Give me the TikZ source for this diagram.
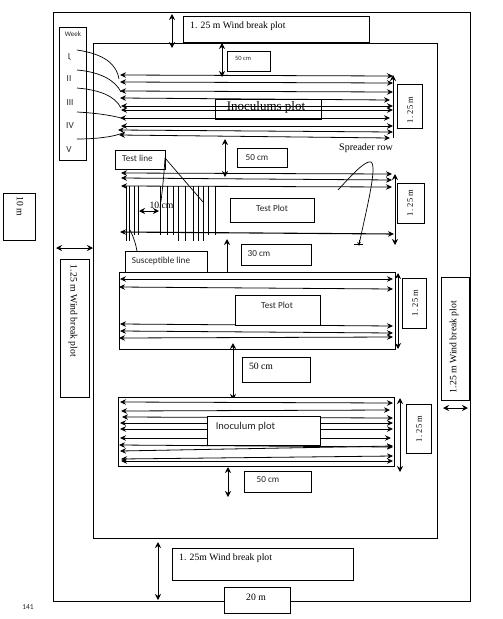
\documentclass[tikz,border=0pt]{standalone}
\usepackage{fontspec}
\setmainfont{Liberation Serif}
\newfontfamily\calfont{Carlito}
\usetikzlibrary{arrows.meta}
\tikzset{
  box/.style={draw,line width=0.8pt,fill=white,inner sep=0pt,anchor=north west},
  rowline/.style={line width=0.8pt,{Stealth[length=6pt,width=5.5pt]}-{Stealth[length=6pt,width=5.5pt]}},
  dim/.style={line width=0.9pt,{Stealth[length=6pt,width=6pt]}-{Stealth[length=6pt,width=6pt]}},
  lead/.style={line width=0.7pt},
  tick/.style={line width=0.7pt},
  sf/.style={font=\calfont\fontsize{9.2}{11}\selectfont,inner sep=0pt,text=black!85},
  rm/.style={font=\fontsize{9.7}{11}\selectfont,inner sep=0pt,text=black},
  hgt/.style={font=\fontsize{8.5}{10}\selectfont,inner sep=0pt,text=black,rotate=90},
}
\newcommand{\bx}[5]{\node[box,minimum width=#3pt-#1pt,minimum height=#4pt-#2pt] (#5) at (#1,#2) {};}
\newcommand{\rowarrow}[4]{\draw[rowline] (#1,#2) -- (#3,#4);}
\begin{document}
\begin{tikzpicture}[x=1pt,y=-1pt]
\useasboundingbox (0,0) rectangle (503,619);
\fill[white] (0,0) rectangle (503,619);
% frames
\bx{53}{12}{470}{601}{outer}
\bx{93}{43}{437}{538}{inner}
\bx{183}{16}{369}{42}{topwind}
\node[rm,anchor=west] (topwindt) at (190,26) {1. 25 m Wind break plot};
% week
\bx{59}{27}{86}{160}{week}
\node[sf,font=\calfont\fontsize{7}{8}\selectfont] (weekt) at (73,34) {Week};
\node[sf] (w1) at (69,57) {I};
\draw[red,line width=0.6pt] (69.2,58) -- (70.5,60);
\node[sf] (w2) at (69,79) {II};
\node[sf] (w3) at (70,103) {III};
\node[sf] (w4) at (70,126) {IV};
\node[sf] (w5) at (69,150) {V};
% inoculums rows
\rowarrow{120}{75}{393}{76}
\rowarrow{120}{82}{393}{83}
\rowarrow{120}{91}{393}{92}
\rowarrow{120}{98}{390}{100}
\rowarrow{121}{106}{393}{106}
\rowarrow{121}{110}{393}{110}
\rowarrow{120}{118}{390}{118}
\rowarrow{121}{126}{393}{126}
\rowarrow{118}{130}{393}{132}
\rowarrow{119}{135}{390}{138}
\node[box,minimum width=106pt,minimum height=20pt,fill=none] (inocA) at (215,99) {};
\node[rm,font=\fontsize{13}{15}\selectfont] (inocAt) at (266,107) {Inoculums plot};
\draw[line width=0.9pt,-{Stealth[length=6pt,width=6pt]}] (393,138) -- (393,75);
% curves from week
\draw[lead] (77,50) .. controls (105,54) and (117,65) .. (119,79);
\draw[lead] (77,70) .. controls (100,72) and (115,80) .. (121,92);
\draw[lead] (77,88) .. controls (100,90) and (115,96) .. (121,108);
\draw[lead] (77,112) .. controls (95,113) and (110,115) .. (121,118);
\draw[lead] (77,139) .. controls (95,139) and (115,137) .. (125,132);
% top dims
\draw[dim] (172,14) -- (172,48);
\draw[dim] (222,43) -- (222,77);
\bx{227}{51}{270}{71}{cmA}
\node[sf,font=\calfont\fontsize{6.5}{8}\selectfont] (cmAt) at (243,58) {50 cm};
\bx{397}{84}{422}{128}{hA}
\node[hgt] (hAt) at (410,110) {1. 25 m};
\node[rm,font=\fontsize{10}{12}\selectfont] (spread) at (366,148) {Spreader row};
% test plot 1
\draw[dim] (225,139) -- (225,177);
\bx{237}{148}{287}{167}{cmB}
\node[sf] (cmBt) at (257,158) {50 cm};
\rowarrow{121}{173}{392}{174}
\rowarrow{121}{178}{392}{180}
\rowarrow{121}{186}{392}{187}
\draw[rowline,line width=1.1pt] (120,232) -- (394,234);
\draw[dim] (395,174) -- (395,245);
\foreach \xa/\ya in {126/241,129/241,134/235,138/235,160/235,167/235,173/235,178/241,185/241,193/241,198/241,203/241,208/235,215/235}
  \draw[tick] (\xa,186) -- (\xa,\ya);
\draw[dim] (139,211) -- (159,211);
\node[rm] (tenT) at (161.5,205) {10 cm};
\bx{115}{150}{165}{169}{testline}
\node[sf] (testlinet) at (137.5,158.5) {Test line};
\draw[lead] (165,158) -- (203,202);
\draw[lead] (165,158) .. controls (164,175) and (162,195) .. (160,208);
\bx{230}{198}{314}{222}{tpA}
\node[sf] (tpAt) at (272,208) {Test Plot};
\bx{397}{183}{424}{223}{hB}
\node[hgt] (hBt) at (410,203) {1. 25 m};
% spreader curve
\draw[lead] (338,190) .. controls (350,177) and (365,160) .. (371,162) .. controls (378,166) and (365,215) .. (359,245);
\draw[lead] (354,244) -- (363,244);
\draw[lead,-{Stealth[length=4pt,width=3.5pt]}] (359,240) -- (359,246);
% susceptible
\draw[lead] (130,230) .. controls (134,238) and (136,245) .. (137,251);
\bx{125}{251}{207}{272}{sus}
\node[sf] (sust) at (161,261) {Susceptible line};
\bx{241}{244}{311}{265}{cmC}
\node[sf] (cmCt) at (259,254) {30 cm};
\draw[line width=0.9pt,-{Stealth[length=6pt,width=6pt]}] (227,272) -- (227,239);
% double arrows left
\bx{3}{193}{35}{240}{tenm}
\node[rm,rotate=-90] (tenmt) at (20,206) {10 m};
\draw[dim] (56,248) -- (93,248);
\bx{60}{259}{89}{397}{lwind}
\node[rm,rotate=-90] (lwindt) at (73,311) {1.25 m Wind break plot};
% test plot 2
\bx{119}{272}{395}{349}{plotB}
\rowarrow{120}{279}{393}{279}
\rowarrow{119}{287}{393}{289}
\rowarrow{120}{324}{393}{326}
\rowarrow{120}{331}{393}{333}
\rowarrow{119}{338}{393}{337}
\bx{235}{295}{320}{325}{tpB}
\node[sf] (tpBt) at (277,305) {Test Plot};
\draw[dim] (398,273) -- (398,349);
\bx{402}{278}{426}{328}{hC}
\node[hgt] (hCt) at (415,303) {1. 25 m};
\draw[dim] (233,343) -- (233,400);
\bx{242}{357}{310}{382}{cmD}
\node[rm] (cmDt) at (261,366) {50 cm};
% right wind
\bx{441}{277}{469}{400}{rwind}
\node[rm,rotate=90] (rwindt) at (454,347) {1.25 m Wind break plot};
\draw[dim] (443,408) -- (468,408);
% inoculum plot
\bx{118}{397}{394}{466}{plotC}
\rowarrow{120}{402}{393}{403}
\rowarrow{121}{411}{390}{410}
\rowarrow{122}{417}{393}{418}
\rowarrow{120}{423}{393}{423}
\rowarrow{120}{429}{393}{429}
\rowarrow{120}{438}{391}{438}
\rowarrow{119}{445}{393}{447}
\rowarrow{120}{451}{393}{446}
\rowarrow{121}{459}{393}{456}
\rowarrow{121}{461}{393}{461}
\bx{207}{416}{320}{445}{inocB}
\node[sf,font=\calfont\fontsize{10.5}{12}\selectfont] (inocBt) at (245.5,427) {Inoculum plot};
\draw[dim] (400,398) -- (400,472);
\bx{406}{404}{431}{453}{hD}
\node[hgt] (hDt) at (419,429) {1. 25 m};
\draw[dim] (228,467) -- (228,497);
\bx{244}{471}{311}{492}{cmE}
\node[sf] (cmEt) at (268,480) {50 cm};
% bottom
\draw[dim] (158,542) -- (158,600);
\bx{172}{548}{353}{580}{botwind}
\node[rm,anchor=west] (botwindt) at (179,558) {1. 25m Wind break plot};
\bx{224}{587}{290}{613}{twentym}
\node[rm] (twentyt) at (256,597) {20 m};
\node[sf,font=\calfont\fontsize{7.5}{9}\selectfont] (pg) at (28,607) {141};
\end{tikzpicture}
\end{document}
